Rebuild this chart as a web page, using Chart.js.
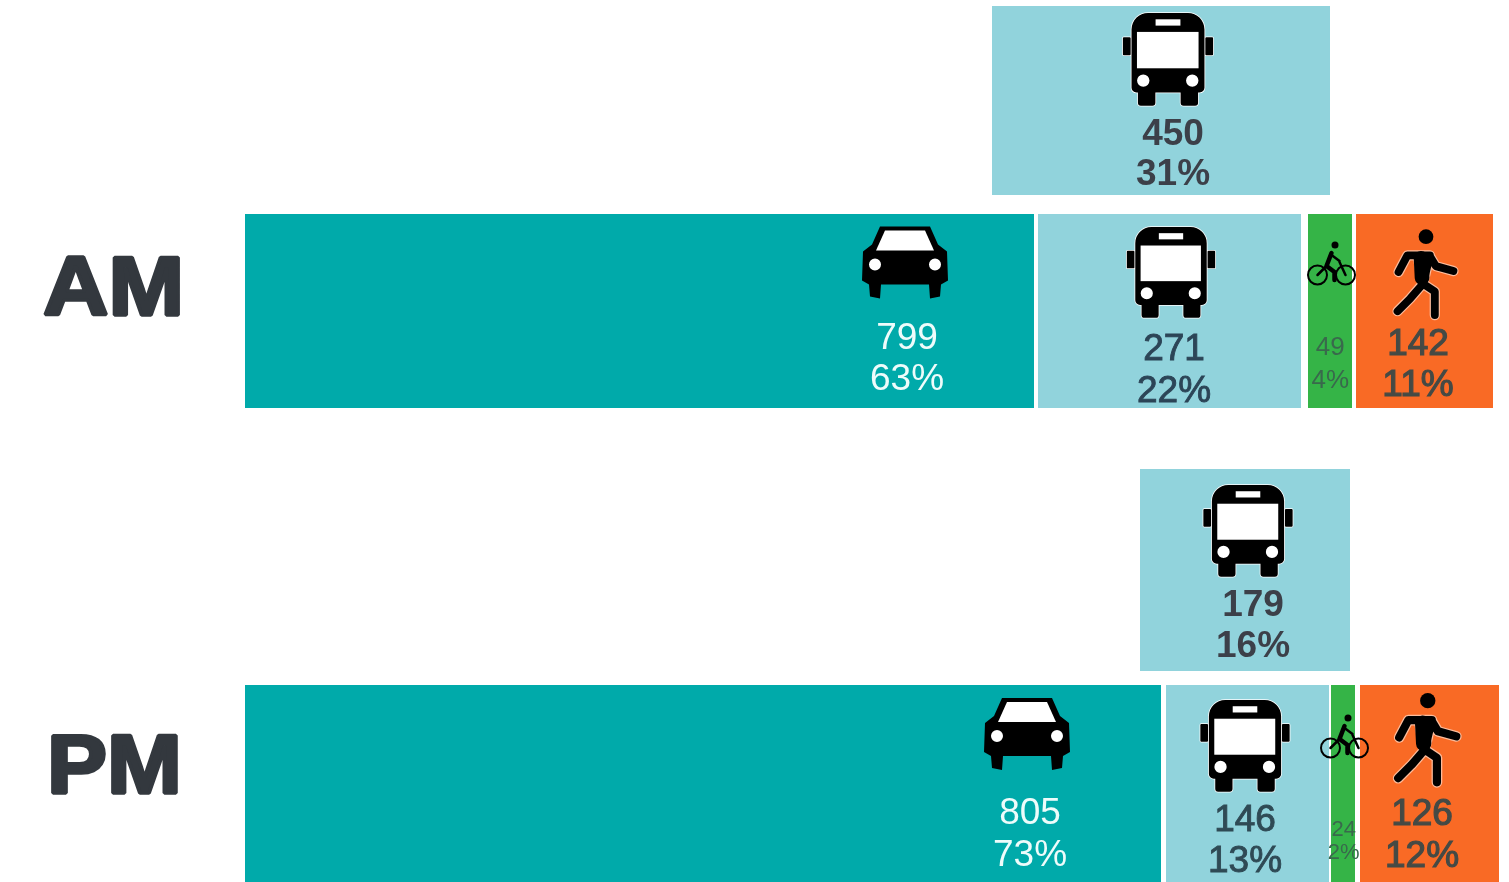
<!DOCTYPE html>
<html>
<head>
<meta charset="utf-8">
<title>AM / PM mode share</title>
<script src="https://cdn.jsdelivr.net/npm/chart.js@4"></script>
<style>
  html, body { margin: 0; padding: 0; background: #fff; width: 1509px; height: 882px; overflow: hidden; }
  canvas { position: absolute; left: 0; }
</style>
</head>
<body>
<canvas id="amChart" width="1509" height="422" style="top:-5px"></canvas>
<canvas id="pmChart" width="1509" height="428" style="top:463px"></canvas>
<script>
// share of each period's trips (x axis is 0-101 %)
const periods = ['AM', 'PM'];
const carShare = [63.28, 73.48];
const busShare = [21.48, 13.32];
const bikeShare = [3.96, 2.2];
const walkShare = [11.12, 11.32];

// the extra transit box sitting above each bar
const boxFrom = [59.76, 71.6];
const boxTo = [86.8, 88.4];

const carCount = ['799', '805'];
const carPct = ['63%', '73%'];
const busCount = ['271', '146'];
const busPct = ['22%', '13%'];
const bikeCount = ['49', '24'];
const bikePct = ['4%', '2%'];
const walkCount = ['142', '126'];
const walkPct = ['11%', '12%'];
const boxCount = ['450', '179'];
const boxPct = ['31%', '16%'];

// white gaps between the segments (half width, px)
const gapAfterCar = [2, 2.5];
const gapAfterBus = [3.5, 1];
const gapAfterBike = [2, 2.5];

const TEAL = '#00aaaa';
const PALE = '#91d3dc';
const GREEN = '#35b447';
const ORANGE = '#f96a25';
const DARK = '#3c4049';

// icons, unit = 1px at scale 1, origin top middle (bike: between wheels, walker: head)
function busIcon(ctx, cx, top, s) {
  ctx.save();
  ctx.translate(cx, top);
  ctx.scale(s, s);
  const body = new Path2D();
  body.roundRect(-37.6, 0, 75.2, 82, [17, 17, 5, 5]);
  body.roundRect(-46.5, 25, 8, 18.5, 1);
  body.roundRect(38.5, 25, 8, 18.5, 1);
  body.roundRect(-31, 76, 18, 19.5, 3);
  body.roundRect(13, 76, 18, 19.5, 3);
  ctx.strokeStyle = '#fff';
  ctx.lineWidth = 1.6;
  ctx.stroke(body);
  ctx.fillStyle = '#000';
  ctx.fill(body);
  ctx.fillStyle = '#fff';
  ctx.fillRect(-32, 19.5, 63.5, 37.5);
  ctx.fillRect(-12.8, 6.5, 25.6, 6.5);
  ctx.beginPath();
  ctx.arc(-25.5, 69.7, 6.4, 0, Math.PI * 2);
  ctx.arc(25, 69.7, 6.4, 0, Math.PI * 2);
  ctx.fill();
  ctx.restore();
}

function carIcon(ctx, cx, top, s) {
  ctx.save();
  ctx.translate(cx, top);
  ctx.scale(s, s);
  ctx.fillStyle = '#000';
  ctx.beginPath();
  ctx.moveTo(-25, 0);
  ctx.lineTo(25, 0);
  ctx.lineTo(33, 18);
  ctx.lineTo(42, 25);
  ctx.lineTo(43, 54);
  ctx.lineTo(36, 58);
  ctx.lineTo(35, 70);
  ctx.lineTo(25, 72);
  ctx.lineTo(24, 58);
  ctx.lineTo(-24, 58);
  ctx.lineTo(-25, 72);
  ctx.lineTo(-35, 70);
  ctx.lineTo(-36, 58);
  ctx.lineTo(-43, 54);
  ctx.lineTo(-42, 25);
  ctx.lineTo(-33, 18);
  ctx.closePath();
  ctx.fill();
  ctx.fillStyle = '#fff';
  ctx.beginPath();
  ctx.moveTo(-20, 4);
  ctx.lineTo(20, 4);
  ctx.lineTo(29, 24);
  ctx.lineTo(-29, 24);
  ctx.closePath();
  ctx.fill();
  ctx.beginPath();
  ctx.arc(-30, 38, 6, 0, Math.PI * 2);
  ctx.arc(30, 38, 6, 0, Math.PI * 2);
  ctx.fill();
  ctx.restore();
}

function bikeIcon(ctx, cx, wheelY, s) {
  ctx.save();
  ctx.translate(cx, wheelY);
  ctx.scale(s, s);
  ctx.strokeStyle = '#000';
  ctx.lineWidth = 2;
  ctx.beginPath();
  ctx.arc(-14, 0, 9.5, 0, Math.PI * 2);
  ctx.moveTo(23.5, 0);
  ctx.arc(14, 0, 9.5, 0, Math.PI * 2);
  ctx.stroke();
  ctx.lineJoin = 'round';
  ctx.lineCap = 'round';
  ctx.lineWidth = 4.5;
  ctx.beginPath();
  ctx.moveTo(0, -22);
  ctx.lineTo(-5, -9);
  ctx.lineTo(3, -3);
  ctx.lineTo(3, 5);
  ctx.stroke();
  ctx.lineWidth = 2.5;
  ctx.beginPath();
  ctx.moveTo(0, -20);
  ctx.lineTo(8, -14);
  ctx.moveTo(-14, 0);
  ctx.lineTo(-5, -9);
  ctx.moveTo(14, 0);
  ctx.lineTo(8, -13);
  ctx.stroke();
  ctx.fillStyle = '#000';
  ctx.beginPath();
  ctx.arc(3.5, -30, 3.5, 0, Math.PI * 2);
  ctx.fill();
  ctx.restore();
}

function walkIcon(ctx, cx, headY, s) {
  ctx.save();
  ctx.translate(cx, headY);
  ctx.scale(s, s);
  const limbs = new Path2D();
  limbs.moveTo(-28, 36);
  limbs.lineTo(-19, 19);
  limbs.lineTo(4, 19);
  limbs.lineTo(-3, 48);
  limbs.lineTo(-16, 63);
  limbs.lineTo(-29, 76);
  limbs.moveTo(4, 20);
  limbs.lineTo(10, 30);
  limbs.lineTo(28, 35);
  limbs.moveTo(-3, 48);
  limbs.lineTo(9, 56);
  limbs.lineTo(9, 80);
  limbs.moveTo(-8, 22);
  limbs.lineTo(-4, 46);
  ctx.lineJoin = 'round';
  ctx.lineCap = 'round';
  ctx.strokeStyle = 'rgba(255,255,255,0.55)';
  ctx.lineWidth = 10.5;
  ctx.stroke(limbs);
  ctx.strokeStyle = '#000';
  ctx.lineWidth = 8;
  ctx.stroke(limbs);
  ctx.lineWidth = 15;
  ctx.beginPath();
  ctx.moveTo(-5, 22);
  ctx.lineTo(-4, 42);
  ctx.stroke();
  ctx.fillStyle = '#000';
  ctx.beginPath();
  ctx.arc(0, 0, 7.5, 0, Math.PI * 2);
  ctx.fill();
  ctx.restore();
}

const iconFns = { bus: busIcon, car: carIcon, bike: bikeIcon, walk: walkIcon };

// placement of the icon and the two text lines, relative to the middle of each segment
const amMarks = [
  { ds: 0, row: 1, icon: 'car', ix: 264.5, iy: -85, is: 1, tx: 266.5, y1: 37.5, y2: 78.5, size: 37, color: '#eefcfb' },
  { ds: 1, row: 1, icon: 'bus', ix: 0.75, iy: -84.5, is: 0.95, tx: 3.75, y1: 48.5, y2: 90.5, size: 37, color: '#2c4557', heavy: 0.9 },
  { ds: 2, row: 1, icon: 'bike', ix: 2.25, iy: -36.5, is: 1, tx: 1, y1: 43.5, y2: 76.5, size: 26, color: '#39694c' },
  { ds: 3, row: 1, icon: 'walk', ix: 2.5, iy: -74.8, is: 0.98, tx: -5.5, y1: 43, y2: 84, size: 37, color: '#454a45', heavy: 1.2 },
  { ds: 4, row: 0, icon: 'bus', ix: 7, iy: -87.5, is: 0.97, tx: 12, y1: 44.5, y2: 84, size: 37, color: DARK, bold: true }
];
const pmMarks = [
  { ds: 0, row: 1, icon: 'car', ix: 322.75, iy: -86, is: 1, tx: 325.75, y1: 39.7, y2: 82, size: 37, color: '#eefcfb' },
  { ds: 1, row: 1, icon: 'bus', ix: -1.75, iy: -84, is: 0.96, tx: -1.75, y1: 46.7, y2: 88, size: 37, color: '#2f4a55', heavy: 0.9 },
  { ds: 2, row: 1, icon: 'bike', ix: 0.75, iy: -36, is: 1, tx: 0, y1: 52, y2: 75, size: 22, color: '#39694c' },
  { ds: 3, row: 1, icon: 'walk', ix: -0.5, iy: -83.3, is: 1.02, tx: -6.25, y1: 40.7, y2: 82.5, size: 37, color: '#454a45', heavy: 1.2 },
  { ds: 4, row: 0, icon: 'bus', ix: 3, iy: -85, is: 0.96, tx: 8, y1: 45.6, y2: 86.6, size: 37, color: DARK, bold: true }
];

const segmentTexts = [
  [carCount, carPct], [busCount, busPct], [bikeCount, bikePct], [walkCount, walkPct], [boxCount, boxPct]
];

function makePanel(canvasId, p, marks, boxThick, barThick, trimTop, trimBottom, periodX, periodY, periodStretch) {
  const barBorder = (left, right) => ({ left: left, right: right, top: trimTop, bottom: trimBottom });

  const segmentLabels = {
    id: 'segmentLabels',
    afterDatasetsDraw(chart) {
      const ctx = chart.ctx;
      ctx.save();
      ctx.textBaseline = 'alphabetic';
      marks.forEach(m => {
        const el = chart.getDatasetMeta(m.ds).data[m.row];
        const mid = (el.x + el.base) / 2;
        iconFns[m.icon](ctx, mid + m.ix, el.y + m.iy, m.is);

        const lines = segmentTexts[m.ds];
        ctx.font = (m.bold ? 'bold ' : '') + m.size + 'px "Liberation Sans", Arial, sans-serif';
        ctx.textAlign = 'center';
        ctx.fillStyle = m.color;
        ctx.strokeStyle = m.color;
        ctx.lineWidth = m.heavy || 0;
        [m.y1, m.y2].forEach((dy, k) => {
          ctx.fillText(lines[k][p], mid + m.tx, el.y + dy);
          if (m.heavy) ctx.strokeText(lines[k][p], mid + m.tx, el.y + dy);
        });
      });

      // period name left of the bar, Arial Black look from a stretched bold
      const first = chart.getDatasetMeta(0).data[1];
      ctx.translate(first.base - periodX, first.y + periodY);
      ctx.scale(periodStretch, 1);
      ctx.font = 'bold 84px "Liberation Sans", Arial, sans-serif';
      ctx.textAlign = 'left';
      ctx.fillStyle = '#33383e';
      ctx.strokeStyle = '#33383e';
      ctx.lineWidth = 3.5;
      ctx.lineJoin = 'bevel';
      ctx.fillText(periods[p], 0, 0);
      ctx.strokeText(periods[p], 0, 0);
      ctx.restore();
    }
  };

  return new Chart(document.getElementById(canvasId), {
    type: 'bar',
    data: {
      labels: ['Transit', periods[p]],
      datasets: [
        { label: 'Car', data: [null, carShare[p]], backgroundColor: TEAL, barThickness: barThick,
          borderWidth: barBorder(0, gapAfterCar[p]) },
        { label: 'Bus', data: [null, busShare[p]], backgroundColor: PALE, barThickness: barThick,
          borderWidth: barBorder(gapAfterCar[p], gapAfterBus[p]) },
        { label: 'Bike', data: [null, bikeShare[p]], backgroundColor: GREEN, barThickness: barThick,
          borderWidth: barBorder(gapAfterBus[p], gapAfterBike[p]) },
        { label: 'Walk', data: [null, walkShare[p]], backgroundColor: ORANGE, barThickness: barThick,
          borderWidth: barBorder(gapAfterBike[p], 0) },
        { label: 'Transit', data: [[boxFrom[p], boxTo[p]], null], backgroundColor: PALE, barThickness: boxThick,
          borderWidth: 0 }
      ]
    },
    options: {
      indexAxis: 'y',
      responsive: false,
      animation: false,
      layout: { padding: { left: 245, right: 1.5, top: 0, bottom: 0 } },
      datasets: { bar: { borderColor: '#fff', borderSkipped: false, inflateAmount: 0 } },
      scales: {
        x: { stacked: true, min: 0, max: 101, display: false },
        y: { stacked: true, display: false }
      },
      plugins: { legend: { display: false }, tooltip: { enabled: false } }
    },
    plugins: [segmentLabels]
  });
}

makePanel('amChart', 0, amMarks, 189, 199, 2, 3, 202, 3.5, 1.08);
makePanel('pmChart', 1, pmMarks, 202, 198, 0, 0, 198, 9, 1.07);
</script>
</body>
</html>
